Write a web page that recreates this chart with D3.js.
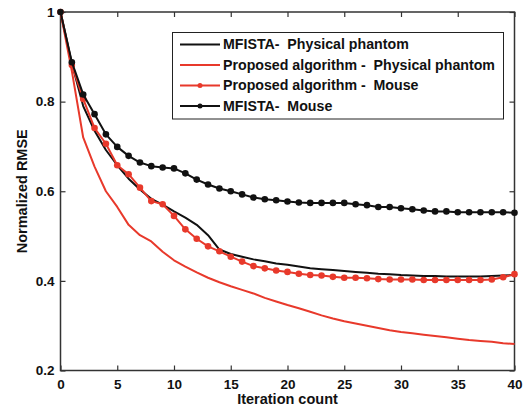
<!DOCTYPE html>
<html>
<head>
	<meta charset="utf-8">
	<title>Normalized RMSE</title>
	<script src="https://cdn.jsdelivr.net/npm/d3@7"></script>
	<style>
		body { margin: 0; background: #fff; font-family: Arial, "Liberation Sans", sans-serif; }
		svg text { font-weight: bold; }
		.legend text { white-space: pre; }
	</style>
</head>
<body>
<div id="chart"></div>
<script>

	// data (iterations 0..40)

	const iterations = d3.range(0, 41);

	const mfistaPhantom = [
		1.000, 0.885, 0.790, 0.735, 0.692, 0.658, 0.628, 0.604, 0.583, 0.570,
		0.555, 0.541, 0.525, 0.502, 0.470, 0.460, 0.454, 0.448, 0.444, 0.439,
		0.436, 0.432, 0.428, 0.426, 0.424, 0.422, 0.420, 0.418, 0.416, 0.415,
		0.413, 0.412, 0.411, 0.411, 0.410, 0.410, 0.410, 0.410, 0.411, 0.412,
		0.413
	];

	const proposedPhantom = [
		1.000, 0.868, 0.720, 0.655, 0.600, 0.565, 0.525, 0.502, 0.488, 0.465,
		0.446, 0.432, 0.419, 0.407, 0.397, 0.388, 0.380, 0.372, 0.362, 0.354,
		0.346, 0.339, 0.331, 0.323, 0.316, 0.310, 0.305, 0.300, 0.295, 0.290,
		0.286, 0.283, 0.280, 0.277, 0.274, 0.271, 0.268, 0.266, 0.264, 0.261,
		0.259
	];

	const proposedMouse = [
		1.000, 0.882, 0.806, 0.741, 0.706, 0.658, 0.638, 0.608, 0.578, 0.571,
		0.545, 0.515, 0.494, 0.477, 0.466, 0.454, 0.443, 0.433, 0.428, 0.423,
		0.420, 0.416, 0.413, 0.412, 0.409, 0.407, 0.407, 0.406, 0.404, 0.403,
		0.403, 0.403, 0.402, 0.402, 0.402, 0.402, 0.402, 0.402, 0.403, 0.408,
		0.415
	];

	const mfistaMouse = [
		1.000, 0.888, 0.816, 0.772, 0.727, 0.699, 0.679, 0.664, 0.656, 0.653,
		0.651, 0.640, 0.626, 0.615, 0.606, 0.600, 0.593, 0.586, 0.582, 0.580,
		0.577, 0.575, 0.574, 0.574, 0.574, 0.574, 0.571, 0.569, 0.565, 0.565,
		0.562, 0.560, 0.557, 0.555, 0.555, 0.553, 0.553, 0.553, 0.553, 0.553,
		0.552
	];

	const xTicks = [0, 5, 10, 15, 20, 25, 30, 35, 40];
	const yTicks = [0.2, 0.4, 0.6, 0.8, 1];

	const xLabel = "Iteration count";
	const yLabel = "Normalized RMSE";

	const red = "#e8392b";
	const black = "#111111";

	const series = [
		{ name: "MFISTA-  Physical phantom", values: mfistaPhantom, color: black, dots: false },
		{ name: "Proposed algorithm -  Physical phantom", values: proposedPhantom, color: red, dots: false },
		{ name: "Proposed algorithm -  Mouse", values: proposedMouse, color: red, dots: true },
		{ name: "MFISTA-  Mouse", values: mfistaMouse, color: black, dots: true },
	];

	// drawing

	const width = 524;
	const height = 406;
	const margin = { top: 12, right: 9.5, bottom: 35.5, left: 60.5 };

	const x = d3.scaleLinear([0, 40], [margin.left, width - margin.right]);
	const y = d3.scaleLinear([0.2, 1], [height - margin.bottom, margin.top]);

	const svg = d3.select("#chart")
		.append("svg")
		.attr("width", width)
		.attr("height", height)
		.attr("viewBox", [0, 0, width, height]);

	const tickLen = 5;

	// bottom and top axes (ticks inward)
	svg.append("g")
		.attr("transform", `translate(0,${y(0.2)})`)
		.call(d3.axisBottom(x).tickValues(xTicks).tickSize(-tickLen).tickPadding(9).tickFormat(d3.format("d")))
		.call(g => g.select(".domain").remove())
		.call(g => g.selectAll(".tick line").attr("stroke", "#333").attr("stroke-width", 1.2))
		.call(g => g.selectAll(".tick text").attr("font-size", 13.5).attr("fill", "#111"));

	svg.append("g")
		.attr("transform", `translate(0,${y(1)})`)
		.call(d3.axisTop(x).tickValues(xTicks).tickSize(-tickLen).tickFormat(""))
		.call(g => g.select(".domain").remove())
		.call(g => g.selectAll(".tick line").attr("stroke", "#333").attr("stroke-width", 1.2));

	// left and right axes
	svg.append("g")
		.attr("transform", `translate(${x(0)},0)`)
		.call(d3.axisLeft(y).tickValues(yTicks).tickSize(-tickLen).tickPadding(6).tickFormat(d => d === 1 ? "1" : d3.format(".1f")(d)))
		.call(g => g.select(".domain").remove())
		.call(g => g.selectAll(".tick line").attr("stroke", "#333").attr("stroke-width", 1.2))
		.call(g => g.selectAll(".tick text").attr("font-size", 13.5).attr("fill", "#111"));

	svg.append("g")
		.attr("transform", `translate(${x(40)},0)`)
		.call(d3.axisRight(y).tickValues(yTicks).tickSize(-tickLen).tickFormat(""))
		.call(g => g.select(".domain").remove())
		.call(g => g.selectAll(".tick line").attr("stroke", "#333").attr("stroke-width", 1.2));

	// plot frame
	svg.append("rect")
		.attr("x", x(0))
		.attr("y", y(1))
		.attr("width", x(40) - x(0))
		.attr("height", y(0.2) - y(1))
		.attr("fill", "none")
		.attr("stroke", "#333")
		.attr("stroke-width", 1.5);

	// lines
	const line = d3.line()
		.x((d, i) => x(iterations[i]))
		.y(d => y(d));

	const plot = svg.append("g");

	for (const s of series) {
		plot.append("path")
			.attr("d", line(s.values))
			.attr("fill", "none")
			.attr("stroke", s.color)
			.attr("stroke-width", 2)
			.attr("stroke-linejoin", "round");
		if (s.dots) {
			plot.append("g")
				.selectAll("circle")
				.data(s.values)
				.join("circle")
				.attr("cx", (d, i) => x(iterations[i]))
				.attr("cy", d => y(d))
				.attr("r", 3.3)
				.attr("fill", s.color);
		}
	}

	// axis titles
	svg.append("text")
		.attr("x", (x(0) + x(40)) / 2)
		.attr("y", 404)
		.attr("text-anchor", "middle")
		.attr("font-size", 14.5)
		.attr("fill", "#111")
		.text(xLabel);

	svg.append("text")
		.attr("transform", `translate(27,${(y(0.2) + y(1)) / 2}) rotate(-90)`)
		.attr("text-anchor", "middle")
		.attr("font-size", 14.5)
		.attr("fill", "#111")
		.text(yLabel);

	// legend
	const legend = svg.append("g").attr("class", "legend");
	legend.append("rect")
		.attr("x", 172.5)
		.attr("y", 32.5)
		.attr("width", 331)
		.attr("height", 86.5)
		.attr("fill", "#fff")
		.attr("stroke", "#222")
		.attr("stroke-width", 1);

	const rowY = [44.5, 65, 85.5, 106];
	series.forEach((s, i) => {
		const row = legend.append("g").attr("transform", `translate(0,${rowY[i]})`);
		row.append("line")
			.attr("x1", 180).attr("x2", 220)
			.attr("stroke", s.color)
			.attr("stroke-width", 1.8);
		if (s.dots) {
			row.append("circle").attr("cx", 200).attr("r", 2.5).attr("fill", s.color);
		}
		row.append("text")
			.attr("x", 223)
			.attr("dy", "0.35em")
			.attr("font-size", 14.2)
			.attr("fill", "#111")
			.text(s.name);
	});

</script>
</body>
</html>
